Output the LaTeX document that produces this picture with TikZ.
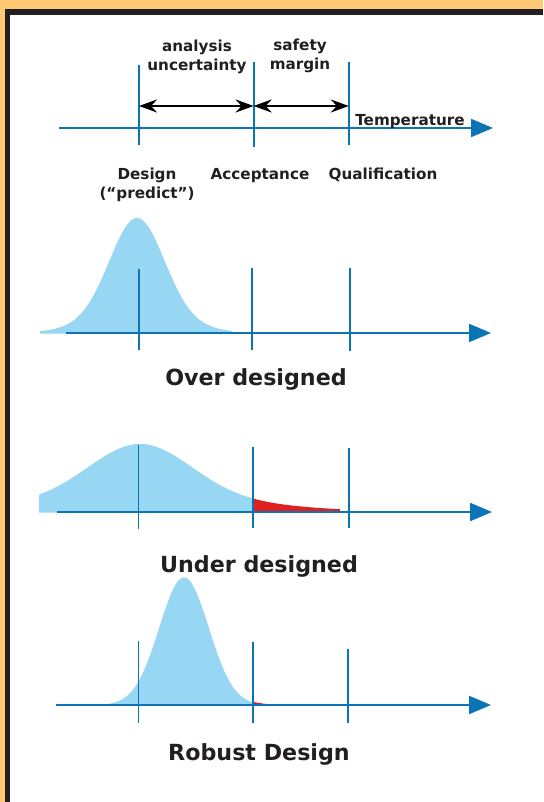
\documentclass[tikz,border=0pt]{standalone}
\usepackage{fontspec}
\setmainfont{DejaVu Sans}
\usetikzlibrary{arrows.meta}
\definecolor{frameorange}{HTML}{FFC872}
\definecolor{framedark}{HTML}{231F20}
\definecolor{axisblue}{HTML}{0A74B6}
\definecolor{curveblue}{HTML}{97D7F3}
\definecolor{tailred}{HTML}{E0201F}
\definecolor{textdark}{HTML}{231F20}
\begin{document}
\begin{tikzpicture}[x=1pt,y=-1pt,
    declare function={gs(\d,\s)=exp(-0.5*(\d/\s)*(\d/\s));
      overbell(\x)=333-115*(0.85*gs(\x-137,27)+0.15*gs(\x-137,45));
      underbell(\x)=512-68*(0.75*gs(\x-140,50)+0.25*gs(\x-140,105));
      robustbell(\x)=705-131.6*(0.5*gs(\x-178,24)+0.5*gs(\x-190,24));},
    every node/.style={font=\fontsize{15.2}{19}\selectfont\bfseries, text=textdark, inner sep=0pt, anchor=base, align=center},
    title/.style={font=\fontsize{22.2}{26}\selectfont\bfseries},
    axis/.style={draw=axisblue, line width=2pt, -{Triangle[length=22pt,width=18pt]}},
    tick/.style={draw=axisblue, line width=1.8pt},
    span/.style={draw=black, line width=2.5pt, {Stealth[length=18pt,width=13pt,inset=6pt]}-{Stealth[length=18pt,width=13pt,inset=6pt]}},
    bell/.style={fill=curveblue},
    tail/.style={fill=tailred}
  ]
  \useasboundingbox (0,0) rectangle (543,802);
  \fill[frameorange] (0,0) rectangle (543,802);
  \fill[framedark] (5.2,9.3) rectangle (543,802);
  \fill[white] (10.4,15) rectangle (543,802);

  % scale
  \coordinate (t0) at (59,128);
  \coordinate (t9) at (493,128);
  \coordinate (td1) at (139,65);   \coordinate (td2) at (139,145);
  \coordinate (ta1) at (253.6,62); \coordinate (ta2) at (253.6,147);
  \coordinate (tq1) at (348.8,62); \coordinate (tq2) at (348.8,145);
  \coordinate (sp1) at (139,106);
  \coordinate (sp2) at (253.6,106);
  \coordinate (sp3) at (348.8,106);
  \draw[axis] (t0) -- (t9);
  \draw[tick] (td1) -- (td2);
  \draw[tick] (ta1) -- (ta2);
  \draw[tick] (tq1) -- (tq2);
  \draw[span] (sp1) -- (sp2);
  \draw[span] (sp2) -- (sp3);

  \node (uncert) at (197,71) {analysis\\uncertainty};
  \node (margin) at (300,70) {safety\\margin};
  \node (temp) at (410,125.7) {Temperature};
  \node (design) at (147,199) {Design\\(“predict”)};
  \node (accept) at (260,180) {Acceptance};
  \node (qualif) at (383,180) {Qualification};

  % over designed
  \fill[bell] (40,333.5) -- plot[domain=40:232, samples=90] (\x, {overbell(\x)}) -- (232,333.5) -- cycle;
  \coordinate (o0) at (66,333);
  \coordinate (o9) at (491,333);
  \coordinate (od1) at (138.8,269); \coordinate (od2) at (138.8,350);
  \coordinate (oa1) at (251.6,268); \coordinate (oa2) at (251.6,350);
  \coordinate (oq1) at (349.8,268); \coordinate (oq2) at (349.8,351);
  \draw[axis] (o0) -- (o9);
  \draw[tick] (od1) -- (od2);
  \draw[tick] (oa1) -- (oa2);
  \draw[tick] (oq1) -- (oq2);
  \node[title] (over) at (256,385) {Over designed};

  % under designed
  \fill[bell] (39,512.5) -- plot[domain=39:253, samples=90] (\x, {underbell(\x)}) -- (253,512.5) -- cycle;
  \fill[tail] (253,511) -- plot[domain=253:340, samples=40] (\x, {underbell(\x)}) -- (340,511) -- cycle;
  \coordinate (u0) at (57,512);
  \coordinate (u9) at (492,512);
  \coordinate (ud1) at (138.4,445); \coordinate (ud2) at (138.4,529);
  \coordinate (ua1) at (252.6,447); \coordinate (ua2) at (252.6,528);
  \coordinate (uq1) at (349,448);   \coordinate (uq2) at (349,528);
  \draw[axis] (u0) -- (u9);
  \draw[tick] (ud1) -- (ud2);
  \draw[tick] (ua1) -- (ua2);
  \draw[tick] (uq1) -- (uq2);
  \node[title] (under) at (259,572) {Under designed};

  % robust design
  \fill[bell] (90,705.5) -- plot[domain=90:253, samples=90] (\x, {robustbell(\x)}) -- (253,705.5) -- cycle;
  \fill[tail] (253,705) -- (253,702) -- (268,704.3) -- (268,705) -- cycle;
  \coordinate (r0) at (56,705);
  \coordinate (r9) at (491,705);
  \coordinate (rd1) at (138.4,641); \coordinate (rd2) at (138.4,723);
  \coordinate (ra1) at (253,642);   \coordinate (ra2) at (253,723);
  \coordinate (rq1) at (348,649);   \coordinate (rq2) at (348,723);
  \draw[axis] (r0) -- (r9);
  \draw[tick] (rd1) -- (rd2);
  \draw[tick] (ra1) -- (ra2);
  \draw[tick] (rq1) -- (rq2);
  \node[title] (robust) at (259,760) {Robust Design};
\end{tikzpicture}
\end{document}
